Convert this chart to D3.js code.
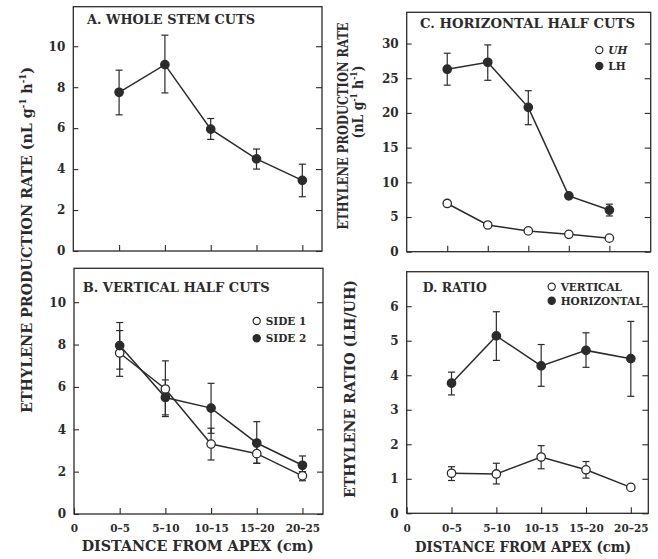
<!DOCTYPE html>
<html lang="en">
<head>
<meta charset="UTF-8">
<title>Ethylene production along the stem</title>
<script src="https://d3js.org/d3.v7.min.js"></script>
<style>
  body { margin: 0; background: #fff; }
  svg { display: block; }
  text { font-family: "DejaVu Serif", serif; font-weight: bold; fill: #2b2b2b; }
</style>
</head>
<body>
<svg width="658" height="559"></svg>
<script>
// categories (distance from apex, cm) and x tick labels
const categories = ["0\u20135", "5\u201310", "10\u201315", "15\u201320", "20\u201325"];
const xTickLabels = ["0"].concat(categories);

// A. whole stem cuts
const wholeMean = [7.75, 9.1, 5.95, 4.5, 3.45];
const wholeLo   = [6.65, 7.72, 5.45, 4.0, 2.65];
const wholeHi   = [8.83, 10.54, 6.47, 4.98, 4.24];

// B. vertical half cuts
const side1Mean = [7.6, 5.9, 3.3, 2.85, 1.8];
const side1Lo   = [6.5, 4.6, 2.55, 2.4, 1.57];
const side1Hi   = [8.66, 7.23, 4.05, 3.3, 2.0];
const side2Mean = [7.95, 5.5, 5.0, 3.35, 2.3];
const side2Lo   = [6.84, 4.68, 3.81, 2.39, 2.0];
const side2Hi   = [9.04, 6.33, 6.17, 4.36, 2.74];

// C. horizontal half cuts
const uhMean = [6.95, 3.85, 3.0, 2.5, 1.95];
const lhMean = [26.3, 27.3, 20.8, 8.05, 6.0];
const lhLo   = [24.0, 24.7, 18.3, null, 5.15];
const lhHi   = [28.6, 29.8, 23.2, null, 6.85];

// D. ratio LH/UH
const vertMean  = [1.16, 1.14, 1.63, 1.26, 0.75];
const vertLo    = [0.95, 0.85, 1.29, 1.02, null];
const vertHi    = [1.35, 1.45, 1.96, 1.5, null];
const horizMean = [3.77, 5.14, 4.27, 4.72, 4.48];
const horizLo   = [3.43, 4.43, 3.68, 4.23, 3.39];
const horizHi   = [4.09, 5.84, 4.89, 5.23, 5.56];

const ink = "#2b2b2b";
const svg = d3.select("svg");
svg.append("rect").attr("width", 658).attr("height", 559).attr("fill", "#fff");

function series(mean, lo, hi, filled) {
  return mean.map((m, i) => ({ x: i + 1, y: m, lo: lo ? lo[i] : null, hi: hi ? hi[i] : null, filled }));
}

function drawPanel(p) {
  const x = d3.scaleLinear().domain([0, p.xMax]).range([p.left, p.right]);
  const y = d3.scaleLinear().domain([0, p.yMax]).range([p.bottom, p.top]);
  const g = svg.append("g");

  // left axis, ticks inside
  const yAxis = g.append("g").attr("transform", `translate(${p.left},0)`)
    .call(d3.axisLeft(y).tickValues(p.yTicks).tickFormat(d3.format("d"))
      .tickSizeInner(-5).tickSizeOuter(0).tickPadding(8));
  // right axis, ticks inside
  const yAxisR = g.append("g").attr("transform", `translate(${p.right},0)`)
    .call(d3.axisRight(y).tickValues(p.yTicks).tickSizeInner(-6).tickSizeOuter(0).tickFormat(""));
  // bottom axis
  const xAxis = g.append("g").attr("transform", `translate(0,${p.bottom})`)
    .call(d3.axisBottom(x).tickValues(p.xLabels ? [0, 1, 2, 3, 4, 5] : [1, 2, 3, 4, 5])
      .tickSizeInner(-6).tickSizeOuter(0).tickPadding(11)
      .tickFormat(i => p.xLabels ? xTickLabels[i] : ""));

  [yAxis, yAxisR, xAxis].forEach(a => {
    a.select(".domain").remove();
    a.selectAll("line").attr("stroke", ink).attr("stroke-width", 1.1);
    a.selectAll("text").attr("font-family", "DejaVu Serif").attr("font-weight", "bold").attr("fill", ink);
  });
  yAxis.selectAll("text").attr("font-size", 12);
  xAxis.selectAll("text").attr("font-size", 10.5);

  // frame
  g.append("rect").attr("x", p.left).attr("y", p.top)
    .attr("width", p.right - p.left).attr("height", p.bottom - p.top)
    .attr("fill", "none").attr("stroke", ink).attr("stroke-width", 1.3);

  // title
  g.append("text").attr("x", p.titleX).attr("y", p.titleY)
    .attr("font-size", 13).attr("textLength", p.titleW).attr("lengthAdjust", "spacingAndGlyphs")
    .text(p.title);

  const line = d3.line().x(d => x(d.x)).y(d => y(d.y));
  p.series.forEach(s => {
    g.append("path").datum(s).attr("d", line)
      .attr("fill", "none").attr("stroke", ink).attr("stroke-width", 1.5);
  });
  p.series.forEach(s => {
    const eb = s.filter(d => d.lo != null);
    const e = g.append("g").attr("stroke", ink).attr("stroke-width", 1.2);
    e.selectAll("line.v").data(eb).join("line")
      .attr("x1", d => x(d.x)).attr("x2", d => x(d.x))
      .attr("y1", d => y(d.lo)).attr("y2", d => y(d.hi));
    e.selectAll("line.t").data(eb).join("line")
      .attr("x1", d => x(d.x) - 3.5).attr("x2", d => x(d.x) + 3.5)
      .attr("y1", d => y(d.hi)).attr("y2", d => y(d.hi));
    e.selectAll("line.b").data(eb).join("line")
      .attr("x1", d => x(d.x) - 3.5).attr("x2", d => x(d.x) + 3.5)
      .attr("y1", d => y(d.lo)).attr("y2", d => y(d.lo));
  });
  p.series.forEach(s => {
    g.append("g").selectAll("circle").data(s).join("circle")
      .attr("cx", d => x(d.x)).attr("cy", d => y(d.y)).attr("r", 4.2)
      .attr("fill", d => d.filled ? ink : "#fff")
      .attr("stroke", ink).attr("stroke-width", 1.3);
  });

  // legend
  if (p.legend) {
    p.legend.forEach((l, i) => {
      const ly = p.legend.y0 + i * p.legend.dy;
      g.append("circle").attr("cx", p.legend.x).attr("cy", ly).attr("r", 3.6)
        .attr("fill", l.filled ? ink : "#fff").attr("stroke", ink).attr("stroke-width", 1.2);
      g.append("text").attr("x", p.legend.x + 9).attr("y", ly + 4)
        .attr("font-size", 10.5).attr("font-style", l.italic ? "italic" : null)
        .text(l.label);
    });
  }
}

// A
drawPanel({
  left: 73.3, right: 322, top: 6.7, bottom: 251, xMax: 5.43, yMax: 11.93,
  yTicks: [0, 2, 4, 6, 8, 10], xLabels: false,
  title: "A. WHOLE STEM CUTS", titleX: 87, titleY: 24, titleW: 168,
  series: [series(wholeMean, wholeLo, wholeHi, true)]
});

// B
const legB = [{ label: "SIDE 1", filled: false }, { label: "SIDE 2", filled: true }];
legB.x = 256.7; legB.y0 = 321; legB.dy = 17.3;
drawPanel({
  left: 74, right: 323, top: 268.3, bottom: 514, xMax: 5.45, yMax: 11.6,
  yTicks: [0, 2, 4, 6, 8, 10], xLabels: true,
  title: "B. VERTICAL HALF CUTS", titleX: 82.7, titleY: 291.7, titleW: 187,
  series: [series(side1Mean, side1Lo, side1Hi, false), series(side2Mean, side2Lo, side2Hi, true)],
  legend: legB
});

// C
const legC = [{ label: "UH", filled: false, italic: true }, { label: "LH", filled: true }];
legC.x = 599.3; legC.y0 = 50; legC.dy = 16;
drawPanel({
  left: 406.7, right: 650.7, top: 12.3, bottom: 251.7, xMax: 6.02, yMax: 34.5,
  yTicks: [0, 5, 10, 15, 20, 25, 30], xLabels: false,
  title: "C. HORIZONTAL HALF CUTS", titleX: 420, titleY: 28, titleW: 215,
  series: [series(uhMean, null, null, false), series(lhMean, lhLo, lhHi, true)],
  legend: legC
});

// D
const legD = [{ label: "VERTICAL", filled: false }, { label: "HORIZONTAL", filled: true }];
legD.x = 551.7; legD.y0 = 286.7; legD.dy = 14;
drawPanel({
  left: 406.7, right: 648.3, top: 271.7, bottom: 513.3, xMax: 5.39, yMax: 7.0,
  yTicks: [0, 1, 2, 3, 4, 5, 6], xLabels: true,
  title: "D. RATIO", titleX: 422.7, titleY: 291.7, titleW: 64,
  series: [series(horizMean, horizLo, horizHi, true), series(vertMean, vertLo, vertHi, false)],
  legend: legD
});

// axis titles
function unitLabel(sel) {
  sel.append("tspan").text("(nL g");
  sel.append("tspan").attr("font-size", "0.6em").attr("dy", -6).text("-1");
  sel.append("tspan").attr("dy", 6).text(" h");
  sel.append("tspan").attr("font-size", "0.6em").attr("dy", -6).text("-1");
  sel.append("tspan").attr("dy", 6).text(")");
}

const yl = svg.append("text").attr("transform", "translate(31.5,240) rotate(-90)")
  .attr("text-anchor", "middle").attr("font-size", 15)
  .attr("textLength", 346).attr("lengthAdjust", "spacingAndGlyphs");
yl.append("tspan").text("ETHYLENE PRODUCTION RATE ");
unitLabel(yl);

// long labels near the edges: squeezed with a scale transform
svg.append("text").attr("transform", "translate(348,126) rotate(-90) scale(0.82,1)")
  .attr("text-anchor", "middle").attr("font-size", 14)
  .text("ETHYLENE PRODUCTION RATE");
const yl2 = svg.append("text").attr("transform", "translate(363,102) rotate(-90)")
  .attr("text-anchor", "middle").attr("font-size", 15)
  .attr("textLength", 73).attr("lengthAdjust", "spacingAndGlyphs");
unitLabel(yl2);

svg.append("text").attr("transform", "translate(355,389) rotate(-90)")
  .attr("text-anchor", "middle").attr("font-size", 15)
  .attr("textLength", 218).attr("lengthAdjust", "spacingAndGlyphs")
  .text("ETHYLENE RATIO (LH/UH)");

svg.append("text").attr("x", 81.7).attr("y", 550.5).attr("font-size", 15.5)
  .attr("textLength", 232).attr("lengthAdjust", "spacingAndGlyphs")
  .text("DISTANCE FROM APEX (cm)");
svg.append("text").attr("transform", "translate(415,552) scale(0.86,1)").attr("font-size", 15.5)
  .text("DISTANCE FROM APEX (cm)");
</script>
</body>
</html>
